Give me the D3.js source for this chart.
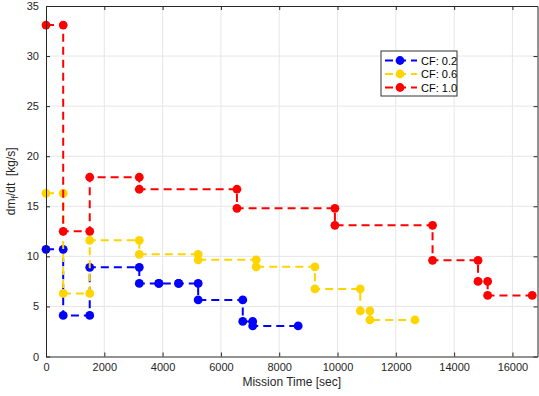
<!DOCTYPE html>
<html>
<head>
<meta charset="utf-8">
<script src="https://cdn.jsdelivr.net/npm/d3@7"></script>
<style>
  body { margin: 0; background: #fff; }
  svg { display: block; font-family: "Liberation Sans", Arial, Helvetica, sans-serif; }
</style>
</head>
<body>
<svg id="chart" width="539" height="396"></svg>
<script>
// step times [sec] and flow rate per interval [kg/s]
const blueTimes = [0, 590, 1500, 3200, 3870, 4550, 5220, 6750, 7090, 8650];
const blueRates = [10.7, 4.1, 8.9, 7.3, 7.3, 7.3, 5.65, 3.5, 3.05];

const yellowTimes = [0, 590, 1500, 3200, 5220, 7210, 9225, 10780, 11110, 12655];
const yellowRates = [16.3, 6.3, 11.6, 10.2, 9.65, 8.95, 6.75, 4.55, 3.65];

const redTimes = [0, 590, 1500, 3200, 6550, 9910, 13260, 14820, 15150, 16680];
const redRates = [33.1, 12.5, 17.9, 16.7, 14.8, 13.1, 9.6, 7.5, 6.1];

const xTicks = [0, 2000, 4000, 6000, 8000, 10000, 12000, 14000, 16000];
const yTicks = [0, 5, 10, 15, 20, 25, 30, 35];

const series = [
  { name: "CF: 0.2", color: "#0000ff", times: blueTimes, rates: blueRates },
  { name: "CF: 0.6", color: "#ffd500", times: yellowTimes, rates: yellowRates },
  { name: "CF: 1.0", color: "#ff0000", times: redTimes, rates: redRates }
];

const plotLeft = 46, plotRight = 537.5, plotTop = 6, plotBottom = 356.5;
const axisColor = "#262626";

const x = d3.scaleLinear().domain([0, 16860]).range([plotLeft, plotRight]);
const y = d3.scaleLinear().domain([0, 35]).range([plotBottom, plotTop]);

const svg = d3.select("#chart");

// grid
const grid = svg.append("g");
grid.selectAll(".gx").data(xTicks.slice(1)).join("line")
  .attr("x1", d => x(d)).attr("x2", d => x(d))
  .attr("y1", plotTop).attr("y2", plotBottom)
  .style("stroke", "#e6e6e6").style("stroke-width", 1);
grid.selectAll(".gy").data(yTicks.slice(1, -1)).join("line")
  .attr("x1", plotLeft).attr("x2", plotRight)
  .attr("y1", d => y(d)).attr("y2", d => y(d))
  .style("stroke", "#e6e6e6").style("stroke-width", 1);

// stairs corners: (t_i, v_i), (t_{i+1}, v_i), ...
function corners(times, rates) {
  const pts = [];
  rates.forEach((v, i) => {
    pts.push([times[i], v]);
    pts.push([times[i + 1], v]);
  });
  return pts;
}

const line = d3.line().x(d => x(d[0])).y(d => y(d[1]));

series.forEach(s => {
  const pts = corners(s.times, s.rates);
  const g = svg.append("g");
  g.append("path")
    .attr("d", line(pts))
    .style("fill", "none")
    .style("stroke", s.color)
    .style("stroke-width", 2)
    .style("stroke-dasharray", "8,5");
  g.selectAll("circle").data(pts).join("circle")
    .attr("cx", d => x(d[0]))
    .attr("cy", d => y(d[1]))
    .attr("r", 4.4)
    .style("fill", s.color);
});

// axes, ticks pointing inward on all four sides
function styleAxis(g) {
  g.selectAll("path").style("stroke", axisColor).style("stroke-width", 1);
  g.selectAll("line").style("stroke", axisColor).style("stroke-width", 1);
  g.selectAll("text").style("fill", axisColor).style("font-size", "11px");
}

svg.append("g")
  .attr("transform", `translate(0,${plotBottom})`)
  .call(d3.axisBottom(x).tickValues(xTicks).tickFormat(d3.format("d"))
    .tickSizeInner(-4).tickSizeOuter(0).tickPadding(7))
  .call(styleAxis);
svg.append("g")
  .attr("transform", `translate(0,${plotTop})`)
  .call(d3.axisTop(x).tickValues(xTicks).tickFormat("")
    .tickSizeInner(-4).tickSizeOuter(0))
  .call(styleAxis);
svg.append("g")
  .attr("transform", `translate(${plotLeft},0)`)
  .call(d3.axisLeft(y).tickValues(yTicks)
    .tickSizeInner(-4).tickSizeOuter(0).tickPadding(7))
  .call(styleAxis);
svg.append("g")
  .attr("transform", `translate(${plotRight},0)`)
  .call(d3.axisRight(y).tickValues(yTicks).tickFormat("")
    .tickSizeInner(-4).tickSizeOuter(0))
  .call(styleAxis);

// axis labels
svg.append("text")
  .attr("x", (plotLeft + plotRight) / 2).attr("y", 386)
  .attr("text-anchor", "middle")
  .style("font-size", "12px").style("fill", axisColor)
  .text("Mission Time [sec]");

const yl = svg.append("text")
  .attr("transform", `translate(15,${(plotTop + plotBottom) / 2}) rotate(-90)`)
  .attr("text-anchor", "middle")
  .style("font-size", "12px").style("fill", axisColor);
yl.append("tspan").text("dm");
yl.append("tspan").attr("baseline-shift", "-30%").style("font-size", "9px").text("f");
yl.append("tspan").text("/dt  [kg/s]").attr("xml:space", "preserve");

// legend
const leg = svg.append("g").attr("transform", "translate(381,51)");
leg.append("rect")
  .attr("width", 76).attr("height", 45)
  .style("fill", "#fff").style("stroke", "#333").style("stroke-width", 1);
series.forEach((s, i) => {
  const ry = 9.5 + i * 13.5;
  leg.append("line")
    .attr("x1", 4).attr("x2", 36).attr("y1", ry).attr("y2", ry)
    .style("stroke", s.color).style("stroke-width", 2)
    .style("stroke-dasharray", "8,5");
  leg.append("circle").attr("cx", 19).attr("cy", ry).attr("r", 4.4).style("fill", s.color);
  leg.append("text")
    .attr("x", 40).attr("y", ry + 4)
    .style("font-size", "11px").style("fill", "#000")
    .text(s.name);
});
</script>
</body>
</html>
